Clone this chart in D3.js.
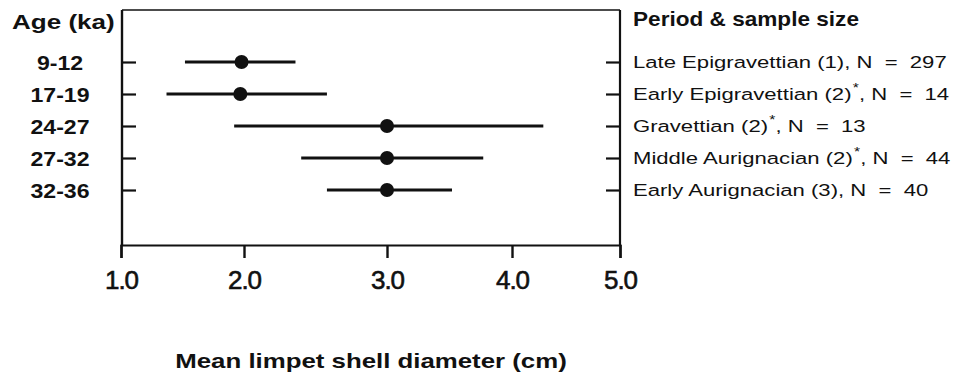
<!DOCTYPE html>
<html>
<head>
<meta charset="utf-8">
<script src="https://cdn.jsdelivr.net/npm/d3@7"></script>
<style>
  body { margin: 0; background: #fff; }
  svg { display: block; }
  text { font-family: "Liberation Sans", Arial, sans-serif; fill: #111; }
</style>
</head>
<body>
<div id="chart"></div>
<script>
// data
const ages = ["9-12", "17-19", "24-27", "27-32", "32-36"];
const periods = ["Late Epigravettian (1)", "Early Epigravettian (2)", "Gravettian (2)", "Middle Aurignacian (2)", "Early Aurignacian (3)"];
const starred = [false, true, true, true, false];
const sampleN = [297, 14, 13, 44, 40];
const means = [1.98, 1.97, 3.0, 3.0, 3.0];
const lows = [1.52, 1.37, 1.92, 2.40, 2.58];
const highs = [2.36, 2.58, 4.29, 3.77, 3.52];
const xTicks = [1, 2, 3, 4, 5];
const xTickLabels = ["1.0", "2.0", "3.0", "4.0", "5.0"];

const width = 964, height = 375;
const mLeft = 122, mRight = 620, mTop = 10, mBottom = 245;

const svg = d3.select("#chart").append("svg")
  .attr("width", width)
  .attr("height", height);

// the printed axis is not quite even, so the scale follows the tick positions
const x = d3.scaleLinear().domain(xTicks).range([121, 244, 387, 512, 620]);
const y = d3.scalePoint().domain(ages).range([62, 190]);

// stretched text helper (original lettering is wide)
function label(g, tx, ty, sx, txt) {
  return g.append("text")
    .attr("transform", `translate(${tx},${ty}) scale(${sx},1)`)
    .text(txt);
}

// frame
svg.append("line").attr("x1", mLeft).attr("x2", mRight).attr("y1", mTop).attr("y2", mTop)
  .attr("stroke", "#111").attr("stroke-width", 1.6);
svg.append("line").attr("x1", mLeft).attr("x2", mLeft).attr("y1", mTop).attr("y2", mBottom)
  .attr("stroke", "#111").attr("stroke-width", 2.4);
svg.append("line").attr("x1", mRight).attr("x2", mRight).attr("y1", mTop).attr("y2", mBottom)
  .attr("stroke", "#111").attr("stroke-width", 2.2);

// bottom axis
const xAxis = svg.append("g")
  .attr("transform", `translate(0,${mBottom})`)
  .call(d3.axisBottom(x).tickValues(xTicks).tickSize(13).tickPadding(13)
    .tickFormat((d, i) => xTickLabels[i]));
xAxis.select(".domain").attr("stroke", "#111").attr("stroke-width", 2.2);
xAxis.selectAll(".tick line").attr("stroke", "#111").attr("stroke-width", 2.4);
xAxis.selectAll(".tick text")
  .style("font-family", "'Liberation Sans', Arial, sans-serif")
  .style("font-size", "26px")
  .style("letter-spacing", "-1px")
  .attr("fill", "#111")
  .attr("stroke", "#111")
  .attr("stroke-width", 0.6);

// left & right row ticks
const lAxis = svg.append("g").attr("transform", `translate(${mLeft},0)`)
  .call(d3.axisRight(y).tickSize(14).tickFormat(""));
const rAxis = svg.append("g").attr("transform", `translate(${mRight},0)`)
  .call(d3.axisLeft(y).tickSize(14).tickFormat(""));
[lAxis, rAxis].forEach(a => {
  a.select(".domain").remove();
  a.selectAll(".tick line").attr("stroke", "#111").attr("stroke-width", 2.2);
});

// error bars and means
const rows = svg.append("g").selectAll("g").data(ages).enter().append("g");
rows.append("line")
  .attr("x1", (d, i) => x(lows[i]))
  .attr("x2", (d, i) => x(highs[i]))
  .attr("y1", d => y(d))
  .attr("y2", d => y(d))
  .attr("stroke", "#111")
  .attr("stroke-width", 3.2);
rows.append("circle")
  .attr("cx", (d, i) => x(means[i]))
  .attr("cy", d => y(d))
  .attr("r", 7)
  .attr("fill", "#111");

// left labels
label(svg, 12, 29, 1.24, "Age (ka)")
  .style("font-size", "21px").style("font-weight", "bold");
ages.forEach(a => {
  label(svg, 60, y(a) + 7.5, 1.1, a)
    .attr("text-anchor", "middle")
    .style("font-size", "21px").style("font-weight", "bold");
});

// right labels
label(svg, 633, 26, 1.13, "Period & sample size")
  .style("font-size", "20px").style("font-weight", "bold");
periods.forEach((p, i) => {
  const t = label(svg, 633, y(ages[i]) + 6, 1.3, null)
    .style("font-size", "17px")
    .style("white-space", "pre");
  t.append("tspan").text(p);
  if (starred[i]) {
    t.append("tspan").attr("dy", -8).attr("dx", 1).style("font-size", "12px").text("*");
    t.append("tspan").attr("dy", 8).text(`, N  =  ${sampleN[i]}`);
  } else {
    t.append("tspan").text(`, N  =  ${sampleN[i]}`);
  }
});

// x title
label(svg, 371, 368, 1.23, "Mean limpet shell diameter (cm)")
  .attr("text-anchor", "middle")
  .style("font-size", "21px").style("font-weight", "bold");
</script>
</body>
</html>
